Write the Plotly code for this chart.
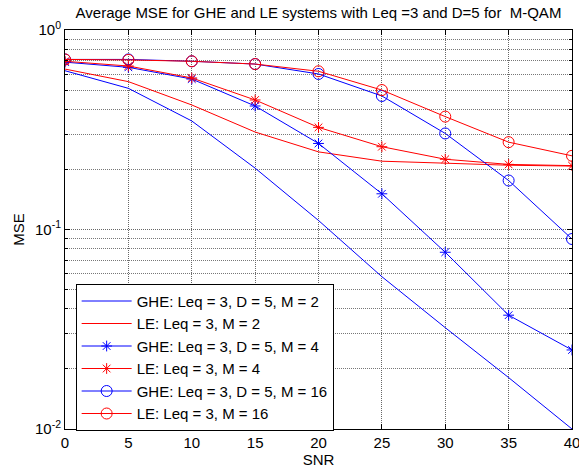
import plotly.graph_objects as go

snr = [0, 5, 10, 15, 20, 25, 30, 35, 40]

ghe_m2 = [0.625, 0.510, 0.350, 0.203, 0.111, 0.058, 0.0322, 0.0181, 0.0100]
le_m2 = [0.637, 0.551, 0.421, 0.308, 0.245, 0.220, 0.215, 0.210, 0.208]
ghe_m4 = [0.690, 0.650, 0.568, 0.416, 0.270, 0.151, 0.0769, 0.0372, 0.0249]
le_m4 = [0.697, 0.660, 0.575, 0.446, 0.325, 0.260, 0.225, 0.212, 0.209]
ghe_m16 = [0.712, 0.712, 0.697, 0.675, 0.602, 0.467, 0.303, 0.176, 0.0896]
le_m16 = [0.712, 0.708, 0.697, 0.675, 0.621, 0.500, 0.368, 0.274, 0.234]

names = [
    "GHE: Leq = 3, D = 5, M = 2",
    "LE: Leq = 3, M = 2",
    "GHE: Leq = 3, D = 5, M = 4",
    "LE: Leq = 3, M = 4",
    "GHE: Leq = 3, D = 5, M = 16",
    "LE: Leq = 3, M = 16",
]
series = [ghe_m2, le_m2, ghe_m4, le_m4, ghe_m16, le_m16]
colors = ["#0000ff", "#ff0000", "#0000ff", "#ff0000", "#0000ff", "#ff0000"]
symbols = [None, None, "asterisk-open", "asterisk-open", "circle-open", "circle-open"]
sizes = [0, 0, 9, 9, 11, 11]

ytick_vals = [0.01, 0.1, 1]
ytick_text = ["10<sup>-2</sup>", "10<sup>-1</sup>", "10<sup>0</sup>"]

fig = go.Figure()
for name, ys, c, sym, sz in zip(names, series, colors, symbols, sizes):
    if sym is None:
        fig.add_trace(go.Scatter(x=snr, y=ys, name=name, mode="lines",
                                 line=dict(color=c, width=1)))
    else:
        fig.add_trace(go.Scatter(x=snr, y=ys, name=name, mode="lines+markers",
                                 line=dict(color=c, width=1),
                                 marker=dict(symbol=sym, size=sz, color=c,
                                             line=dict(color=c, width=1))))

font = "Liberation Sans, Arial, sans-serif"
fig.update_layout(
    width=579, height=470,
    margin=dict(l=65, r=7, t=30, b=41),
    paper_bgcolor="white", plot_bgcolor="white",
    font=dict(family=font, size=15, color="black"),
    title=dict(text="Average MSE for GHE and LE systems with Leq =3 and D=5 for\u00a0\u00a0M-QAM",
               x=0.5, xanchor="center", xref="paper", y=1, yref="container",
               yanchor="top", pad=dict(t=7), font=dict(size=15)),
    showlegend=True,
    legend=dict(x=0.021, y=0.364, xanchor="left", yanchor="top",
                bgcolor="white", bordercolor="black", borderwidth=1,
                font=dict(size=15), itemwidth=50, tracegroupgap=0),
)
fig.update_xaxes(
    range=[0, 40], tickmode="array", tickvals=snr, ticktext=[str(v) for v in snr],
    showline=True, linecolor="black", linewidth=1, mirror="allticks",
    ticks="inside", ticklen=5, tickcolor="black", ticklabeloverflow="allow",
    tickfont=dict(size=15), automargin=False,
    showgrid=True, gridcolor="#666666", griddash="1px,1px", gridwidth=1,
    zeroline=False,
    title=dict(text="SNR", standoff=2, font=dict(size=15)),
)
fig.update_yaxes(
    type="log", range=[-2, 0], tickmode="array", tickvals=ytick_vals, ticktext=ytick_text,
    showline=True, linecolor="black", linewidth=1, mirror="allticks",
    ticks="inside", ticklen=5, tickcolor="black", tickfont=dict(size=15),
    automargin=False,
    showgrid=True, gridcolor="#666666", griddash="1px,1px", gridwidth=1,
    minor=dict(tickmode="array",
               tickvals=[k * 10 ** e for e in (-2, -1) for k in range(2, 10)],
               ticks="inside", ticklen=3, tickcolor="black",
               showgrid=True, gridcolor="#777777", griddash="1px,1px", gridwidth=1),
    zeroline=False,
    title=dict(text="MSE", standoff=6, font=dict(size=15)),
)

fig.write_html("out.html")
